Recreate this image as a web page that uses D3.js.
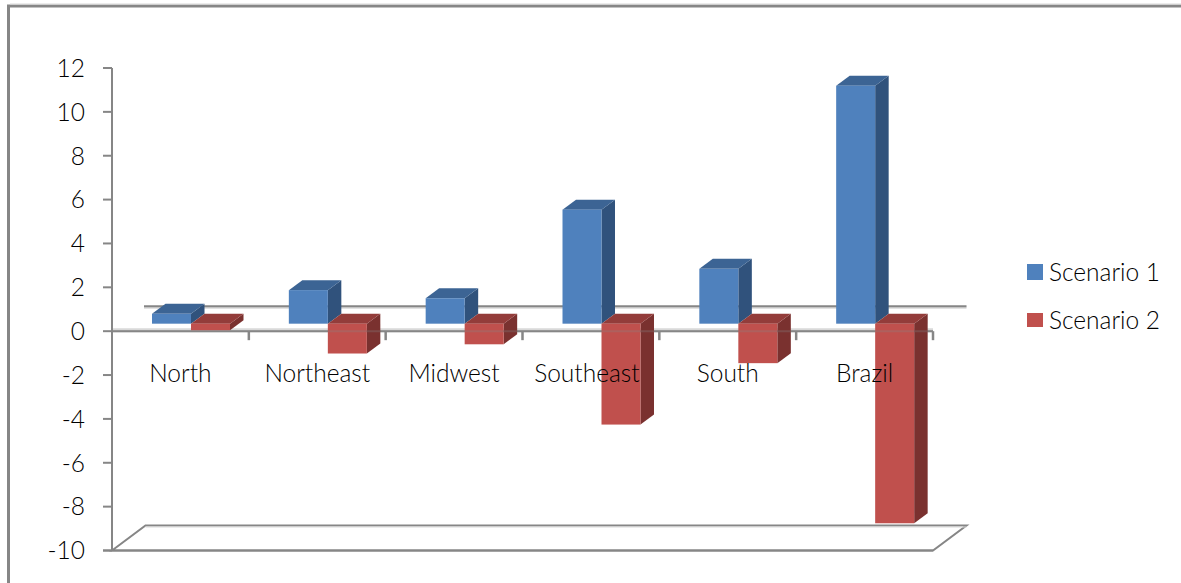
<!DOCTYPE html>
<html>
<head>
<meta charset="utf-8">
<script src="https://cdn.jsdelivr.net/npm/d3@7"></script>
<style>
html,body{margin:0;padding:0;background:#fff;}
svg{display:block;}
text{font-family:Lato,"Open Sans",sans-serif;font-weight:300;fill:#000;}
</style>
</head>
<body>
<svg id="chart" width="1181" height="583"></svg>
<script>
const categories = ["North","Northeast","Midwest","Southeast","South","Brazil"];
const scenario1 = [0.45,1.53,1.16,5.2,2.5,10.85];
const scenario2 = [-0.3,-1.36,-0.94,-4.6,-1.8,-9.1];
const seriesNames = ["Scenario 1","Scenario 2"];
const yTicks = [12,10,8,6,4,2,0,-2,-4,-6,-8,-10];

const svg = d3.select("#chart");
const axisGrey = "#868686", shadowGrey = "#d9d9d9";
const fontSize = 24.5;

const x = d3.scaleBand().domain(categories).range([112,933]).paddingInner(0).paddingOuter(0);
const y = d3.scaleLinear().domain([-10,12]).range([550.5,68]);
const pair = d3.scaleBand().domain(seriesNames).range([29.5,107.5]);

// Oblique projection of the depth axis: plot depth, then the bar's front and back planes
const depth = {dx:33.5, dy:-25};
const front = {dx:10.5, dy:-7.5};
const back = {dx:24, dy:-17.5};

const palette = [
  {front:"#4f81bd", top:"#3c6494", side:"#30527c"},
  {front:"#c0504d", top:"#933c3a", side:"#7a312f"}
];

const line = (g,x1,y1,x2,y2,w=2,c=axisGrey) =>
  g.append("line").attr("x1",x1).attr("y1",y1).attr("x2",x2).attr("y2",y2)
   .attr("stroke",c).attr("stroke-width",w);

// Chart frame
svg.append("path").attr("d","M8.5,583V6H1181").attr("fill","none")
   .attr("stroke",axisGrey).attr("stroke-width",3);
line(svg,10,4,1181,4,1,shadowGrey);

// Floor and back-wall zero line
const walls = svg.append("g");
const floorTop = y(-10)+depth.dy;
walls.append("path")
  .attr("d",`M${x.range()[0]},${y(-10)}L${x.range()[0]+depth.dx},${floorTop}H${x.range()[1]+depth.dx}L${x.range()[1]},${y(-10)}Z`)
  .attr("fill","#fff").attr("stroke",axisGrey).attr("stroke-width",2);
line(walls,x.range()[0]+depth.dx,floorTop+1.5,x.range()[1]+depth.dx,floorTop+1.5,1,shadowGrey);
line(walls,x.range()[0]+32,y(0)+depth.dy+1.5,x.range()[1]+depth.dx,y(0)+depth.dy+1.5,2,shadowGrey);
line(walls,x.range()[0]+32,y(0)+depth.dy,x.range()[1]+depth.dx,y(0)+depth.dy);

// Front zero line with its ticks
const zeroAxis = svg.append("g");
line(zeroAxis,x.range()[0],y(0)-1.5,x.range()[1],y(0)-1.5,3,shadowGrey);
line(zeroAxis,x.range()[0],y(0),x.range()[1],y(0));
x.domain().forEach(c => line(zeroAxis,x(c)+x.bandwidth(),y(0),x(c)+x.bandwidth(),y(0)+9,2.5));

// Bars: draw each as front, top and side faces on the mid-depth planes
const bars = categories.flatMap((c,i) => [
  {c, s:seriesNames[0], v:scenario1[i], k:0},
  {c, s:seriesNames[1], v:scenario2[i], k:1}
]);
const barG = svg.append("g").selectAll("g").data(bars).join("g");
barG.each(function(d){
  const g = d3.select(this), col = palette[d.k];
  const x0 = x(d.c)+pair(d.s)+front.dx, x1 = x0+pair.bandwidth();
  const yA = y(Math.max(d.v,0))+front.dy, yB = y(Math.min(d.v,0))+front.dy;
  const ddx = back.dx-front.dx, ddy = back.dy-front.dy;
  g.append("path").attr("d",`M${x1},${yA}L${x1+ddx},${yA+ddy}V${yB+ddy}L${x1},${yB}Z`).attr("fill",col.side);
  g.append("path").attr("d",`M${x0},${yA}L${x0+ddx},${yA+ddy}H${x1+ddx}L${x1},${yA}Z`).attr("fill",col.top);
  g.append("rect").attr("x",x0).attr("y",yA).attr("width",x1-x0).attr("height",yB-yA).attr("fill",col.front);
});

// The front zero line shows faintly through the bars
line(svg,x.range()[0],y(0),x.range()[1],y(0),2,"#868686").attr("opacity",0.3);

// Value axis
const yAxis = svg.append("g");
line(yAxis,x.range()[0],y(12),x.range()[0],y(-10));
yTicks.forEach(t => {
  line(yAxis,x.range()[0]-9,y(t),x.range()[0],y(t));
  yAxis.append("text").attr("x",85).attr("y",y(t)).attr("dy","0.36em")
    .attr("text-anchor","end").attr("font-size",fontSize).text(t);
});
line(yAxis,x.range()[0]-9,y(-10),x.range()[1],y(-10));

// Category labels, with the Southeast label nudged left
svg.append("g").selectAll("text").data(categories).join("text")
  .attr("x",c => x(c)+x.bandwidth()/2 + (c==="Southeast" ? -4 : 0))
  .attr("y",y(-2)).attr("dy","0.3em")
  .attr("text-anchor","middle").attr("font-size",fontSize).text(c => c);

// Legend
const legendY = d3.scalePoint().domain(seriesNames).range([272,320]);
const legend = svg.append("g").selectAll("g").data(seriesNames).join("g")
  .attr("transform",d => `translate(1027,${legendY(d)})`);
legend.append("rect").attr("x",0).attr("y",(d,i) => i ? -7 : -8).attr("width",16).attr("height",(d,i) => i ? 14 : 16)
  .attr("fill",(d,i) => palette[i].front);
legend.append("text").attr("x",22).attr("dy","0.36em").attr("font-size",fontSize).text(d => d);
</script>
</body>
</html>
